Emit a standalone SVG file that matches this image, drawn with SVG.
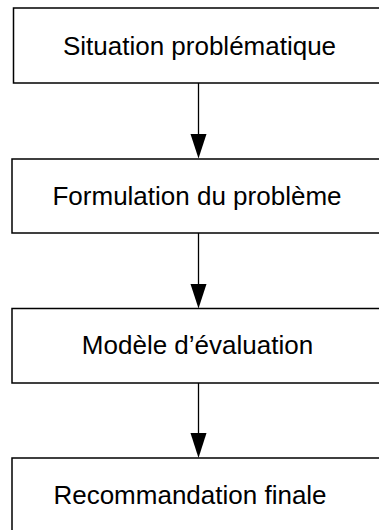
<svg xmlns="http://www.w3.org/2000/svg" width="379" height="530" viewBox="0 0 379 530">
<style>
.box{fill:#fff;stroke:#000;stroke-width:1.5}
.lbl{font-family:"Liberation Sans",Arial,sans-serif;font-size:26px;fill:#000;text-anchor:middle}
.conn{stroke:#000;stroke-width:1.3;fill:none}
.head{fill:#000}
</style>
<rect width="379" height="530" fill="#fff"/>
<g id="connectors">
<line class="conn" x1="198.5" y1="83" x2="198.5" y2="136"/>
<polygon class="head" points="190.5,134 206.5,134 198.5,158.5"/>
<line class="conn" x1="198.5" y1="233" x2="198.5" y2="286"/>
<polygon class="head" points="190.5,284 206.5,284 198.5,308.5"/>
<line class="conn" x1="198.5" y1="383" x2="198.5" y2="435"/>
<polygon class="head" points="190.5,433 206.5,433 198.5,458"/>
</g>
<g id="n1">
<rect class="box" x="13.5" y="8" width="380" height="75"/>
<text class="lbl" x="199.5" y="54.5">Situation problématique</text>
</g>
<g id="n2">
<rect class="box" x="12" y="159" width="380" height="74"/>
<text class="lbl" x="197" y="205">Formulation du problème</text>
</g>
<g id="n3">
<rect class="box" x="12" y="308.5" width="380" height="74.5"/>
<text class="lbl" x="197.5" y="354">Modèle d’évaluation</text>
</g>
<g id="n4">
<rect class="box" x="12" y="458" width="380" height="80"/>
<text class="lbl" x="190" y="503.5">Recommandation finale</text>
</g>
</svg>
